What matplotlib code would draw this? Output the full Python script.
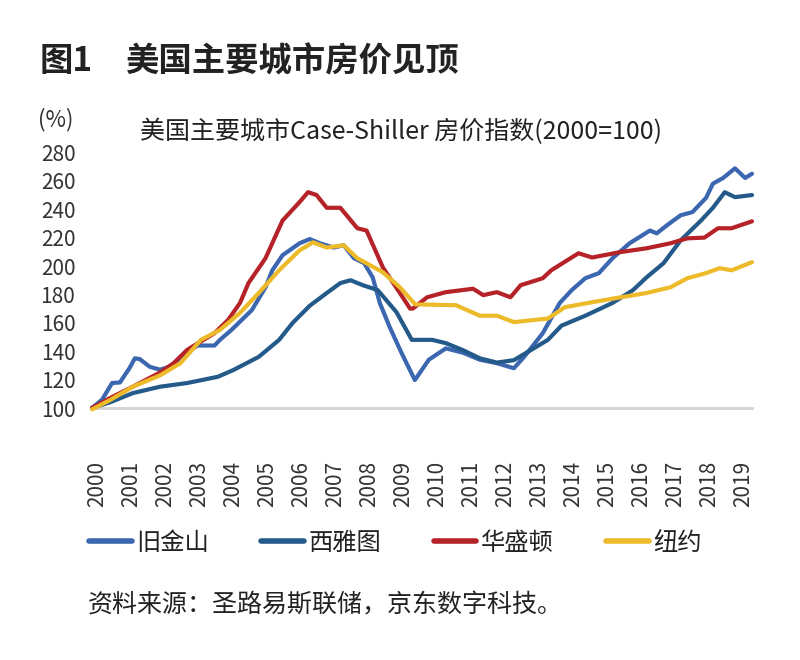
import matplotlib
matplotlib.use("Agg")
import matplotlib.pyplot as plt

plt.rcParams['font.family'] = ['Noto Sans CJK SC', 'DejaVu Sans']

# ---- data (years since Jan 2000, index 2000=100) ----
sf_t = [0, 0.3, 0.59, 0.82, 1.1, 1.26, 1.4, 1.7, 2.0, 2.4, 2.6, 3.1, 3.6, 3.76, 4.1, 4.7, 5.1, 5.3, 5.6,
        6.1, 6.4, 6.7, 7.1, 7.4, 7.7, 8.0, 8.25, 8.46, 8.75, 9.1, 9.49, 9.9, 10.4, 10.9, 11.4, 11.9, 12.4,
        12.7, 13.25, 13.75, 14.1, 14.5, 14.9, 15.3, 15.8, 16.4, 16.6, 16.9, 17.3, 17.65, 18.05, 18.25,
        18.55, 18.9, 19.2, 19.4]
sf_v = [100, 106, 117.6, 118, 128, 135, 134.5, 129, 127, 130, 136, 144, 144, 148, 155, 169, 185, 197, 207.6,
        216, 219, 216, 213, 214.6, 205.5, 202, 192, 174, 157, 138.7, 119.7, 134, 142, 139, 134, 131.6, 128,
        136, 152.7, 174, 183, 191.4, 195, 205.5, 216, 225, 223, 228.7, 235.7, 238, 248, 258,
        262, 268.8, 262, 265]

sea_t = [0, 0.53, 1.2, 2.0, 2.8, 3.7, 4.15, 4.9, 5.5, 5.9, 6.4, 6.9, 7.3, 7.6, 7.96, 8.4, 8.95, 9.4, 10.0,
         10.4, 10.9, 11.4, 11.9, 12.4, 12.9, 13.4, 13.8, 14.5, 15.3, 15.9, 16.3, 16.8, 17.3, 17.9, 18.25,
         18.6, 18.9, 19.4]
sea_v = [100, 104, 110.5, 115, 117.6, 122, 126.7, 136, 148, 160, 172, 181, 188, 190, 186.5, 183, 167.5, 148, 148,
         145.7, 140.8, 135, 132, 133.7, 140.8, 148, 158, 165, 174, 183, 192, 202, 218, 232, 241,
         252, 248.5, 250]

dc_t = [0, 0.53, 1.2, 2.0, 2.4, 2.8, 3.6, 4.0, 4.35, 4.6, 5.1, 5.6, 6.1, 6.35, 6.6, 6.9, 7.3, 7.8, 8.07,
        8.55, 9.05, 9.35, 9.43, 9.85, 10.4, 11.2, 11.5, 11.9, 12.3, 12.6, 13.25, 13.5, 14.3, 14.7, 15.5,
        16.3, 17.0, 17.5, 18.0, 18.4, 18.8, 19.4]
dc_v = [100, 107, 115, 125, 131.6, 141, 152.7, 162, 174, 188, 205.5, 232, 245, 252, 250, 241, 241, 226.6, 225,
        199, 181, 170, 170, 178, 181.6, 184, 179.5, 181.6, 178, 186.5, 191.4, 197, 209, 206, 209.7,
        212.5, 216, 219.5, 220, 226.6, 226.6, 231.5]

ny_t = [0, 0.53, 1.2, 2.0, 2.6, 3.2, 3.76, 4.35, 4.9, 5.5, 6.1, 6.5, 6.9, 7.4, 7.8, 8.55, 9.05, 9.5, 10.7,
        11.4, 11.9, 12.4, 13.0, 13.4, 13.9, 14.7, 15.3, 16.3, 17.0, 17.5, 18.05, 18.45, 18.8, 19.4]
ny_v = [99, 105.6, 115, 123, 131.6, 148, 155, 167, 181, 197, 211, 216.7, 213, 214.6, 205.5, 195.6, 185, 173, 172.4,
        165, 165, 160.5, 162, 163, 171, 174.5, 177, 181, 185, 191.4, 195, 198.5, 197, 202.7]

series_names = ['旧金山', '西雅图', '华盛顿', '纽约']
years = list(range(2000, 2020))
y_ticks = list(range(100, 281, 20))

colors = ['#3B66B0', '#245A8A', '#B52228', '#EDBA2A']

fig = plt.figure(figsize=(8, 6.6), dpi=100)
fig.patch.set_facecolor('white')
ax = fig.add_axes([0.115, 0.3818, 0.825, 0.398])

data = [(sf_t, sf_v), (sea_t, sea_v), (dc_t, dc_v), (ny_t, ny_v)]
order = [3, 0, 1, 2]
handles = [None] * 4
for i in order:
    t, v = data[i]
    ln, = ax.plot(t, v, color=colors[i], lw=3.0, solid_capstyle='round',
                  solid_joinstyle='round', clip_on=False, zorder=3 + i)
    handles[i] = ln

ax.set_xlim(0, 19.4)
ax.set_ylim(100, 285)
ax.set_yticks(y_ticks)
ax.set_yticklabels([str(v) for v in y_ticks], fontsize=15, color='#333333')
ax.set_xticks([y - 2000 + 0.15 for y in years])
ax.set_xticklabels([str(y) for y in years], rotation=90, fontsize=15, color='#333333')
ax.tick_params(axis='both', length=0)
ax.tick_params(axis='y', pad=12)
ax.tick_params(axis='x', pad=38)
for s in ['top', 'right', 'left']:
    ax.spines[s].set_visible(False)
ax.spines['bottom'].set_color('#D4D4D4')
ax.spines['bottom'].set_linewidth(2)
ax.set_facecolor('none')

# titles
fig.text(40 / 800, 1 - 62 / 660, '图1', fontsize=24, fontweight='bold', color='#222222', va='center', ha='left')
fig.text(125 / 800, 1 - 62 / 660, '美国主要城市房价见顶', fontsize=24, fontweight='bold', color='#222222',
         va='center', ha='left')
fig.text(38 / 800, 1 - 120 / 660, '(%)', fontsize=16, color='#333333', va='center', ha='left')
fig.text(140 / 800, 1 - 132 / 660, '美国主要城市Case-Shiller 房价指数(2000=100)', fontsize=18,
         color='#222222', va='center', ha='left')

leg = fig.legend(handles, series_names, loc='center left', bbox_to_anchor=(89 / 800, 1 - 543 / 660),
                 ncol=4, frameon=False, fontsize=17.5, handlelength=1.75, handletextpad=0.2,
                 columnspacing=2.15, borderaxespad=0, borderpad=0)
for txt in leg.get_texts():
    txt.set_color('#222222')
for lh in leg.get_lines():
    lh.set_linewidth(4)
    lh.set_solid_capstyle('round')

fig.text(88 / 800, 1 - 605 / 660, '资料来源：圣路易斯联储，京东数字科技。', fontsize=18, color='#222222',
         va='center', ha='left')

fig.savefig('out.png', dpi=100, facecolor='white')
